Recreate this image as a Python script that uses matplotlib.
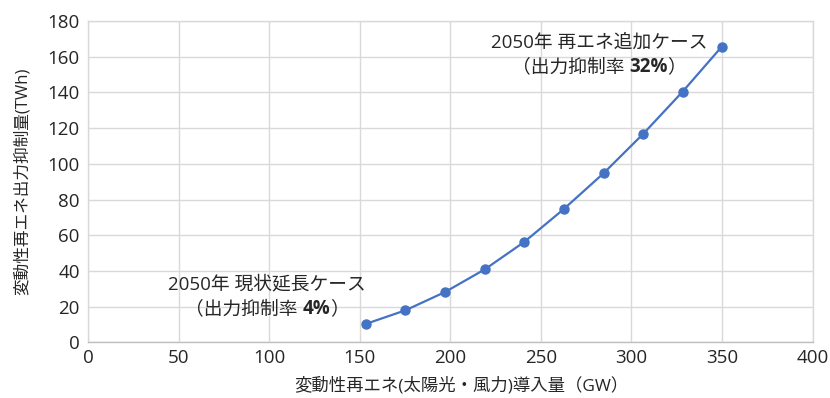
import matplotlib
matplotlib.use("Agg")
import matplotlib.pyplot as plt
from matplotlib.offsetbox import TextArea, HPacker, VPacker, AnnotationBbox

plt.rcParams['font.family'] = ['Open Sans', 'Noto Sans CJK JP', 'DejaVu Sans']

# 導入量 (GW) と出力抑制量 (TWh)
capacity_gw = [153.4, 175.2, 197.2, 219.1, 240.8, 262.6, 284.6, 306.5, 328.3, 349.9]
curtail_twh = [10.3, 17.9, 28.2, 40.9, 56.2, 74.6, 94.7, 116.8, 140.5, 165.7]

x_ticks = [0, 50, 100, 150, 200, 250, 300, 350, 400]
y_ticks = [0, 20, 40, 60, 80, 100, 120, 140, 160, 180]

x_label = "変動性再エネ(太陽光・風力)導入量（GW）"
y_label = "変動性再エネ出力抑制量(TWh)"

case_high = ("2050年 再エネ追加ケース", "（出力抑制率 ", "32%", "）")
case_base = ("2050年 現状延長ケース", "（出力抑制率 ", "4%", "）")

line_color = "#4472C4"
grid_color = "#d9d9d9"
text_color = "#262626"

fig = plt.figure(figsize=(8.3, 3.98), dpi=100)
ax = fig.add_axes([0.106, 0.140, 0.873, 0.807])

ax.plot(capacity_gw, curtail_twh, color=line_color, lw=1.6,
        marker="o", ms=6.5, zorder=3)

ax.set_xlim(x_ticks[0], x_ticks[-1])
ax.set_ylim(y_ticks[0], y_ticks[-1])
ax.set_xticks(x_ticks)
ax.set_yticks(y_ticks)
ax.tick_params(length=0, labelsize=13.5, colors=text_color)
ax.tick_params(axis="x", pad=5)
ax.tick_params(axis="y", pad=6)
ax.grid(True, color=grid_color, lw=1)
ax.set_axisbelow(True)
for s in ax.spines.values():
    s.set_color(grid_color)
    s.set_linewidth(1)
ax.spines['bottom'].set_color("#bfbfbf")

fig.text(0.556, 0.030, x_label, fontsize=12.5, color=text_color,
         ha="center", va="center")
fig.text(0.027, 0.545, y_label, fontsize=12, color=text_color,
         ha="center", va="center", rotation=90)


def case_label(parts, xy):
    title, pre, val, post = parts
    fs = 13.5
    tp = dict(fontsize=fs, color=text_color)
    tb = dict(fontsize=fs, color=text_color, fontweight="bold")
    line1 = TextArea(title, textprops=tp)
    line2 = HPacker(children=[TextArea(pre, textprops=tp),
                              TextArea(val, textprops=tb),
                              TextArea(post, textprops=tp)],
                    align="baseline", pad=0, sep=0)
    box = VPacker(children=[line1, line2], align="center", pad=0, sep=4)
    ab = AnnotationBbox(box, xy, xycoords="data", frameon=False,
                        box_alignment=(0.5, 0.5))
    ax.add_artist(ab)


case_label(case_high, (282, 161))
case_label(case_base, (99, 25))

fig.savefig("out.png", dpi=100)
